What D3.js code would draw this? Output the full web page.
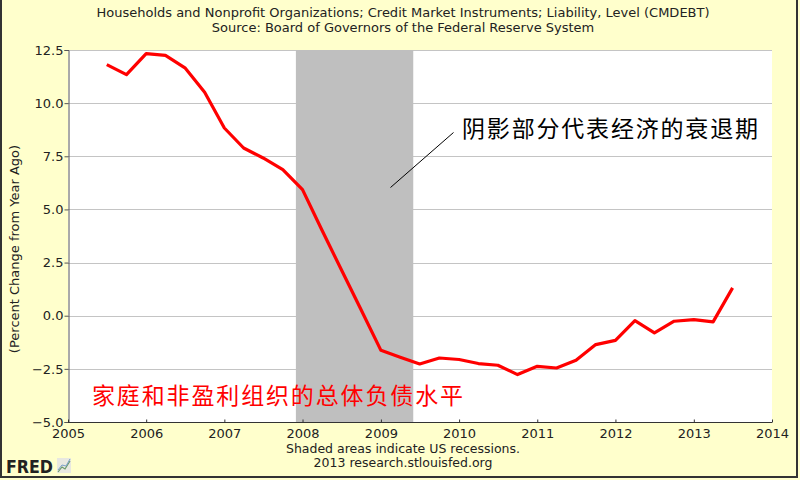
<!DOCTYPE html>
<html><head><meta charset="utf-8">
<script src="https://cdn.jsdelivr.net/npm/d3@7"></script>
<style>
html,body{margin:0;padding:0;background:#FFFFCC;}
svg{display:block;}
</style></head>
<body>
<svg id="chart" width="800" height="480"></svg>
<script>
// ---- data ----
const dates = ["2005-07-01","2005-10-01","2006-01-01","2006-04-01","2006-07-01","2006-10-01",
  "2007-01-01","2007-04-01","2007-07-01","2007-10-01","2008-01-01","2008-04-01","2008-07-01","2008-10-01",
  "2009-01-01","2009-04-01","2009-07-01","2009-10-01","2010-01-01","2010-04-01","2010-07-01","2010-10-01",
  "2011-01-01","2011-04-01","2011-07-01","2011-10-01","2012-01-01","2012-04-01","2012-07-01","2012-10-01",
  "2013-01-01","2013-04-01","2013-07-01"];
const values = [11.81,11.34,12.33,12.25,11.66,10.51,
  8.83,7.89,7.42,6.87,5.93,4.02,2.15,0.27,
  -1.63,-1.95,-2.27,-1.99,-2.06,-2.25,-2.33,-2.77,
  -2.38,-2.46,-2.10,-1.36,-1.16,-0.23,-0.81,-0.26,
  -0.18,-0.29,1.31];
const recessions = [["2007-12-01","2009-06-01"]];
const yTicks = [-5.0,-2.5,0.0,2.5,5.0,7.5,10.0,12.5];
const xTickYears = ["2005","2006","2007","2008","2009","2010","2011","2012","2013","2014"];
const titleLines = ["Households and Nonprofit Organizations; Credit Market Instruments; Liability, Level (CMDEBT)",
  "Source: Board of Governors of the Federal Reserve System"];
const yLabel = "(Percent Change from Year Ago)";
const footLines = ["Shaded areas indicate US recessions.","2013 research.stlouisfed.org"];
const noteText = "阴影部分代表经济的衰退期";
const seriesText = "家庭和非盈利组织的总体负债水平";

// ---- layout ----
const svg = d3.select("#chart");
const parse = d3.timeParse("%Y-%m-%d");
const pl = 68, pr = 772, pt = 50, pb = 422;
const x = d3.scaleTime().domain([parse("2005-01-01"), parse("2014-01-01")]).range([pl, pr]);
const y = d3.scaleLinear().domain([-5, 12.5]).range([pb, pt]);
const font = "'DejaVu Sans', Verdana, sans-serif";
const fs = 13;

svg.append("rect").attr("width",800).attr("height",480).attr("fill","#FFFFCC");
// outer border (left, right, bottom)
svg.append("path").attr("d","M1,0 V477 H797 V0").attr("fill","none").attr("stroke","#333").attr("stroke-width",2);

// plot area
svg.append("rect").attr("x",pl).attr("y",pt).attr("width",pr-pl).attr("height",pb-pt).attr("fill","#fff");

// gridlines
svg.append("g").selectAll("line").data(yTicks.filter(d=>d>-5)).join("line")
  .attr("x1",pl).attr("x2",pr).attr("y1",d=>Math.round(y(d))+0.5).attr("y2",d=>Math.round(y(d))+0.5)
  .attr("stroke","#c4c4c4").attr("stroke-width",1);

// recessions
svg.append("g").selectAll("rect").data(recessions).join("rect")
  .attr("x",d=>x(parse(d[0]))).attr("width",d=>x(parse(d[1]))-x(parse(d[0])))
  .attr("y",pt).attr("height",pb-pt).attr("fill","#bfbfbf");

// axes
const yAxis = d3.axisLeft(y).tickValues(yTicks).tickFormat(d3.format(".1f")).tickSize(4).tickPadding(1);
const gy = svg.append("g").attr("transform",`translate(${pl+0.5},0)`).call(yAxis);
gy.select(".domain").attr("stroke","#555");
gy.selectAll(".tick line").attr("stroke","#555");
gy.selectAll("text").attr("font-family",font).attr("font-size",fs).attr("fill","#222");

const xAxis = d3.axisBottom(x).tickValues(xTickYears.map(s=>parse(s+"-01-01")))
  .tickFormat(d3.timeFormat("%Y")).tickSize(-3).tickPadding(6);
const gx = svg.append("g").attr("transform",`translate(0,${pb+0.5})`).call(xAxis);
gx.select(".domain").attr("stroke","#333").attr("d",`M${pl},0H${pr}`);
gx.selectAll(".tick line").attr("stroke","#333");
gx.selectAll("text").attr("font-family",font).attr("font-size",fs).attr("fill","#222");

// series line
const line = d3.line().x((d,i)=>x(parse(dates[i]))).y(d=>y(d));
svg.append("path").datum(values).attr("d",line).attr("fill","none")
  .attr("stroke","#ff0000").attr("stroke-width",3.2).attr("stroke-linejoin","round");

// titles
svg.append("g").selectAll("text").data(titleLines).join("text")
  .attr("x",403).attr("y",(d,i)=>17+i*15).attr("text-anchor","middle")
  .attr("font-family",font).attr("font-size",fs).attr("fill","#222").text(d=>d);

// y label
svg.append("text").attr("transform","translate(19,249) rotate(-90)").attr("text-anchor","middle")
  .attr("font-family",font).attr("font-size",fs).attr("fill","#222").text(yLabel);

// footer
svg.append("g").selectAll("text").data(footLines).join("text")
  .attr("x",403).attr("y",(d,i)=>453+i*14).attr("text-anchor","middle")
  .attr("font-family",font).attr("font-size",12.5).attr("fill","#222").text(d=>d);

// FRED logo
const logo = svg.append("g");
logo.append("text").attr("x",6).attr("y",473).attr("font-family","'DejaVu Sans', sans-serif")
  .attr("font-weight","900").attr("font-size",17).attr("fill","#222")
  .attr("textLength",47).attr("lengthAdjust","spacingAndGlyphs").text("FRED");
logo.append("rect").attr("x",57).attr("y",458).attr("width",14).attr("height",15).attr("fill","#e8e8e0");
logo.append("path").attr("d","M58,472 L62,467 L65,469 L70,461").attr("fill","none").attr("stroke","#6a9a6a").attr("stroke-width",1.2);
logo.append("path").attr("d","M58,470 L62,465 L66,466 L70,459").attr("fill","none").attr("stroke","#7aa0c8").attr("stroke-width",1);

// annotations
svg.append("line").attr("x1",390.5).attr("y1",187.5).attr("x2",453.5).attr("y2",132.5)
  .attr("stroke","#000").attr("stroke-width",1);
svg.append("text").attr("x",462).attr("y",137).attr("font-family","'Noto Sans CJK SC', sans-serif")
  .attr("font-size",23).attr("fill","#000").attr("textLength",296).attr("lengthAdjust","spacing").text(noteText);
svg.append("text").attr("x",92).attr("y",404).attr("font-family","'Noto Sans CJK SC', sans-serif")
  .attr("font-size",23).attr("fill","#ff0000").attr("textLength",371).attr("lengthAdjust","spacing").text(seriesText);
</script>
</body></html>
